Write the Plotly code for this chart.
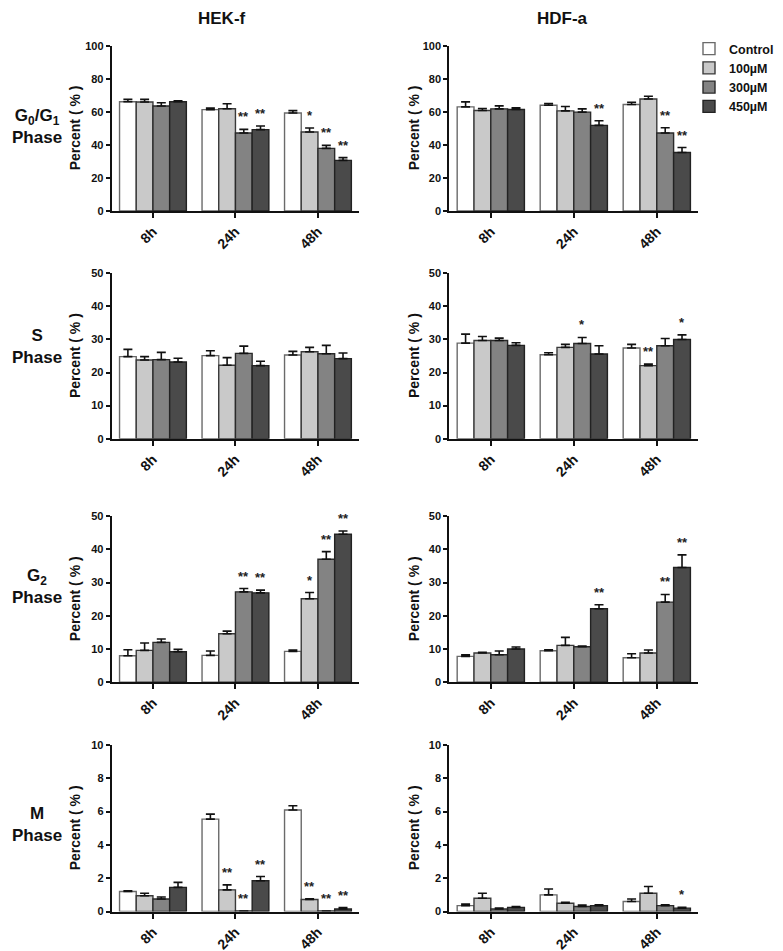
import plotly.graph_objects as go

# ---------------- data ----------------
categories = ["8h", "24h", "48h"]
series_names = ["Control", "100µM", "300µM", "450µM"]
cols = ["HEK-f", "HDF-a"]
rows = ["G<sub>0</sub>/G<sub>1</sub><br>Phase", "S<br>Phase", "G<sub>2</sub><br>Phase", "M<br>Phase"]
y_max = [100, 50, 50, 10]
y_dtick = [20, 10, 10, 2]

# G0/G1 HEK-f
g1_hek_mean = [[66.1, 61.3, 59.3], [65.9, 61.9, 47.8], [63.5, 47.2, 37.9], [66.1, 49.2, 30.6]]
g1_hek_err = [[1.4, 1.0, 1.4], [1.6, 3.0, 2.4], [2.0, 2.2, 1.8], [0.6, 2.2, 1.7]]
g1_hek_star = [["", "", ""], ["", "", "*"], ["", "**", "**"], ["", "**", "**"]]
# G0/G1 HDF-a
g1_hdf_mean = [[63.0, 64.0, 64.4], [60.8, 60.6, 67.8], [61.8, 59.8, 47.2], [61.4, 51.8, 35.4]]
g1_hdf_err = [[3.0, 1.0, 1.4], [1.2, 2.6, 1.6], [1.8, 2.0, 3.2], [1.0, 2.8, 3.0]]
g1_hdf_star = [["", "", ""], ["", "", ""], ["", "", "**"], ["", "**", "**"]]
# S HEK-f
s_hek_mean = [[24.8, 25.1, 25.3], [23.8, 22.2, 26.3], [23.9, 25.8, 25.7], [23.2, 22.1, 24.2]]
s_hek_err = [[2.2, 1.5, 1.1], [1.0, 2.3, 1.3], [2.2, 2.2, 2.5], [1.1, 1.3, 1.7]]
s_hek_star = [["", "", ""], ["", "", ""], ["", "", ""], ["", "", ""]]
# S HDF-a
s_hdf_mean = [[28.9, 25.4, 27.4], [29.7, 27.6, 22.1], [29.7, 28.8, 28.1], [28.2, 25.6, 30.0]]
s_hdf_err = [[2.7, 0.6, 1.1], [1.2, 0.9, 0.5], [0.7, 1.8, 2.2], [0.8, 2.5, 1.4]]
s_hdf_star = [["", "", ""], ["", "", "**"], ["", "*", ""], ["", "", "*"]]
# G2 HEK-f
g2_hek_mean = [[8.0, 8.1, 9.3], [9.6, 14.6, 25.1], [12.0, 27.2, 37.0], [9.2, 26.9, 44.5]]
g2_hek_err = [[1.8, 1.3, 0.4], [2.2, 0.8, 1.9], [1.0, 1.0, 2.3], [0.7, 0.8, 1.0]]
g2_hek_star = [["", "", ""], ["", "", "*"], ["", "**", "**"], ["", "**", "**"]]
# G2 HDF-a
g2_hdf_mean = [[7.8, 9.5, 7.4], [8.8, 11.1, 8.8], [8.3, 10.7, 24.1], [10.0, 22.1, 34.5]]
g2_hdf_err = [[0.5, 0.3, 1.2], [0.2, 2.4, 0.9], [1.1, 0.2, 2.3], [0.6, 1.2, 3.8]]
g2_hdf_star = [["", "", ""], ["", "", ""], ["", "", "**"], ["", "**", "**"]]
# M HEK-f
m_hek_mean = [[1.2, 5.55, 6.1], [0.95, 1.3, 0.72], [0.75, 0.03, 0.03], [1.45, 1.85, 0.15]]
m_hek_err = [[0.05, 0.3, 0.25], [0.15, 0.3, 0.05], [0.12, 0.0, 0.0], [0.3, 0.25, 0.08]]
m_hek_star = [["", "", ""], ["", "**", "**"], ["", "**", "**"], ["", "**", "**"]]
# M HDF-a
m_hdf_mean = [[0.35, 1.0, 0.6], [0.8, 0.5, 1.1], [0.15, 0.3, 0.35], [0.25, 0.35, 0.2]]
m_hdf_err = [[0.1, 0.35, 0.15], [0.3, 0.05, 0.4], [0.05, 0.08, 0.05], [0.05, 0.05, 0.05]]
m_hdf_star = [["", "", ""], ["", "", ""], ["", "", ""], ["", "", "*"]]

panels = [
    [(g1_hek_mean, g1_hek_err, g1_hek_star), (g1_hdf_mean, g1_hdf_err, g1_hdf_star)],
    [(s_hek_mean, s_hek_err, s_hek_star), (s_hdf_mean, s_hdf_err, s_hdf_star)],
    [(g2_hek_mean, g2_hek_err, g2_hek_star), (g2_hdf_mean, g2_hdf_err, g2_hdf_star)],
    [(m_hek_mean, m_hek_err, m_hek_star), (m_hdf_mean, m_hdf_err, m_hdf_star)],
]

# ---------------- style / layout ----------------
W, H = 783, 951
OFF = 8  # page body margin offset
FONT = "Liberation Sans"
bar_colors = ["#ffffff", "#c9c9c9", "#838383", "#4a4a4a"]
line_colors = ["#6a6a6a", "#3a3a3a", "#2a2a2a", "#222222"]
bargap = 0.19
col_px = [(111.7, 359.2), (449.3, 698.3)]
row_px = [(45.7, 211.0), (273.3, 438.7), (516.0, 682.3), (745.0, 911.5)]


def fx(px):
    return (px - OFF) / W


def fy(px):
    return 1 - (px - OFF) / H


fig = go.Figure()
annotations = []
layout_axes = {}

for r in range(4):
    for c in range(2):
        idx = r * 2 + c + 1
        xa = "x" if idx == 1 else f"x{idx}"
        ya = "y" if idx == 1 else f"y{idx}"
        means, errs, stars = panels[r][c]
        for s in range(4):
            fig.add_trace(go.Bar(
                x=categories, y=means[s], name=series_names[s],
                marker=dict(color=bar_colors[s], line=dict(color=line_colors[s], width=1.4)),
                error_y=dict(type="data", array=errs[s], arrayminus=[0] * 3, symmetric=False,
                             color="#111111", thickness=1.6, width=4.5),
                xaxis=xa, yaxis=ya,
                showlegend=(idx == 1), hoverinfo="skip",
            ))
            w = (1 - bargap) / 4
            for g in range(3):
                if stars[s][g]:
                    annotations.append(dict(
                        x=g + (s - 1.5) * w, y=means[s][g] + errs[s][g],
                        xref=xa, yref=ya, text=stars[s][g], showarrow=False,
                        xanchor="center", yanchor="bottom", yshift=3,
                        font=dict(family=FONT, size=13, color="#222222", weight="bold"),
                    ))
        x0, x1 = col_px[c]
        t, b = row_px[r]
        axkey = "xaxis" if idx == 1 else f"xaxis{idx}"
        aykey = "yaxis" if idx == 1 else f"yaxis{idx}"
        layout_axes[axkey] = dict(
            domain=[fx(x0), fx(x1)], anchor=ya, type="category",
            range=[-0.5, 2.5], showline=True, linecolor="#111111", linewidth=2,
            ticks="outside", ticklen=5, tickwidth=2, tickcolor="#111111",
            tickangle=-45, showgrid=False, zeroline=False, automargin=False,
            tickfont=dict(family=FONT, size=14, color="#111111", weight="bold"),
        )
        layout_axes[aykey] = dict(
            domain=[fy(b), fy(t)], anchor=xa,
            range=[0, y_max[r]], dtick=y_dtick[r], tick0=0,
            showline=True, linecolor="#111111", linewidth=2,
            ticks="outside", ticklen=4, tickwidth=2, tickcolor="#111111",
            showgrid=False, zeroline=False, automargin=False,
            tickfont=dict(family=FONT, size=11, color="#111111", weight="bold"),
        )
        # y axis title
        annotations.append(dict(
            x=fx(75 if c == 0 else 414), y=fy((t + b) / 2), xref="paper", yref="paper",
            xanchor="center", yanchor="middle",
            text="Percent ( % )", textangle=-90, showarrow=False,
            font=dict(family=FONT, size=14, color="#111111", weight="bold"),
        ))

# column titles
for c, (name, xc) in enumerate(zip(cols, [222, 562])):
    annotations.append(dict(
        x=fx(xc), y=fy(18), xref="paper", yref="paper", text=name, showarrow=False,
        xanchor="center", yanchor="middle",
        font=dict(family=FONT, size=17, color="#111111", weight="bold"),
    ))
# row titles
for r, (name, yc) in enumerate(zip(rows, [126, 346, 586, 824])):
    annotations.append(dict(
        x=fx(37), y=fy(yc), xref="paper", yref="paper", text=name, showarrow=False,
        xanchor="center", yanchor="middle", align="center",
        font=dict(family=FONT, size=17, color="#111111", weight="bold"),
    ))

fig.update_layout(
    width=W, height=H, margin=dict(l=0, r=0, t=0, b=0, autoexpand=False),
    paper_bgcolor="white", plot_bgcolor="white",
    barmode="group", bargap=bargap, bargroupgap=0,
    showlegend=True,
    legend=dict(x=fx(689), y=fy(34), xanchor="left", yanchor="top",
                font=dict(family=FONT, size=12.5, color="#111111", weight="bold"),
                bgcolor="rgba(0,0,0,0)", tracegroupgap=0, itemwidth=30),
    annotations=annotations,
    **layout_axes,
)

fig.write_html("out.html")
